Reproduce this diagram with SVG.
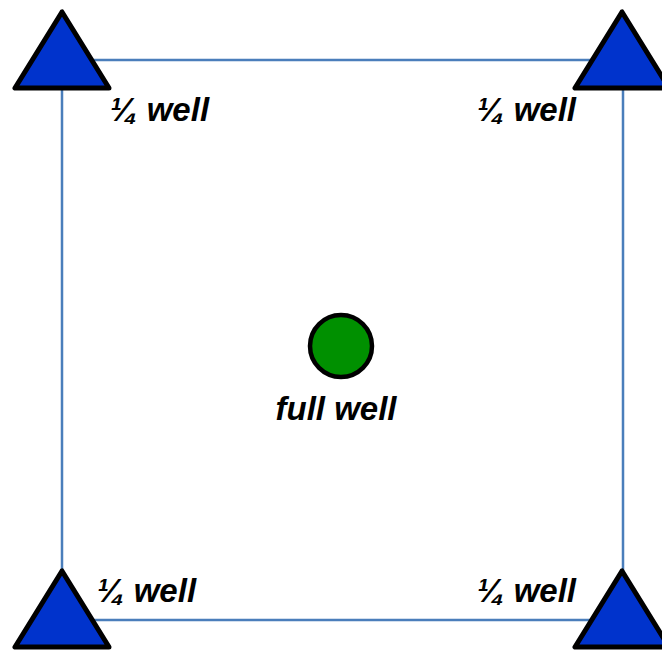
<svg xmlns="http://www.w3.org/2000/svg" width="662" height="652" viewBox="0 0 662 652">
<style>
.edge{stroke:#4a7ebb;stroke-width:2.5;fill:none}
.tri{fill:#0033cc;stroke:#000;stroke-width:5;stroke-linejoin:round}
.well{fill:#009000;stroke:#000;stroke-width:4.5}
.lbl{font-family:"Liberation Sans",Arial,sans-serif;font-weight:bold;font-style:italic;font-size:33px;fill:#000}
</style>
<rect width="662" height="652" fill="#fff"/>
<g id="connectors">
<line class="edge" x1="62" y1="60" x2="623" y2="60"/>
<line class="edge" x1="62" y1="620" x2="623" y2="620"/>
<line class="edge" x1="62" y1="60" x2="62" y2="620"/>
<line class="edge" x1="623" y1="60" x2="623" y2="620"/>
</g>
<g id="well-tl">
<polygon class="tri" points="62,12 15,88 109,88"/>
<text class="lbl" x="110" y="121">¼ well</text>
</g>
<g id="well-tr">
<polygon class="tri" points="622,12 575,88 669,88"/>
<text class="lbl" x="576" y="121" text-anchor="end">¼ well</text>
</g>
<g id="well-bl">
<polygon class="tri" points="62,571 15,647 109,647"/>
<text class="lbl" x="97" y="602">¼ well</text>
</g>
<g id="well-br">
<polygon class="tri" points="622,571 575,647 669,647"/>
<text class="lbl" x="576" y="602" text-anchor="end">¼ well</text>
</g>
<g id="well-center">
<circle class="well" cx="341" cy="346" r="31"/>
<text class="lbl" x="336" y="420" text-anchor="middle">full well</text>
</g>
</svg>
